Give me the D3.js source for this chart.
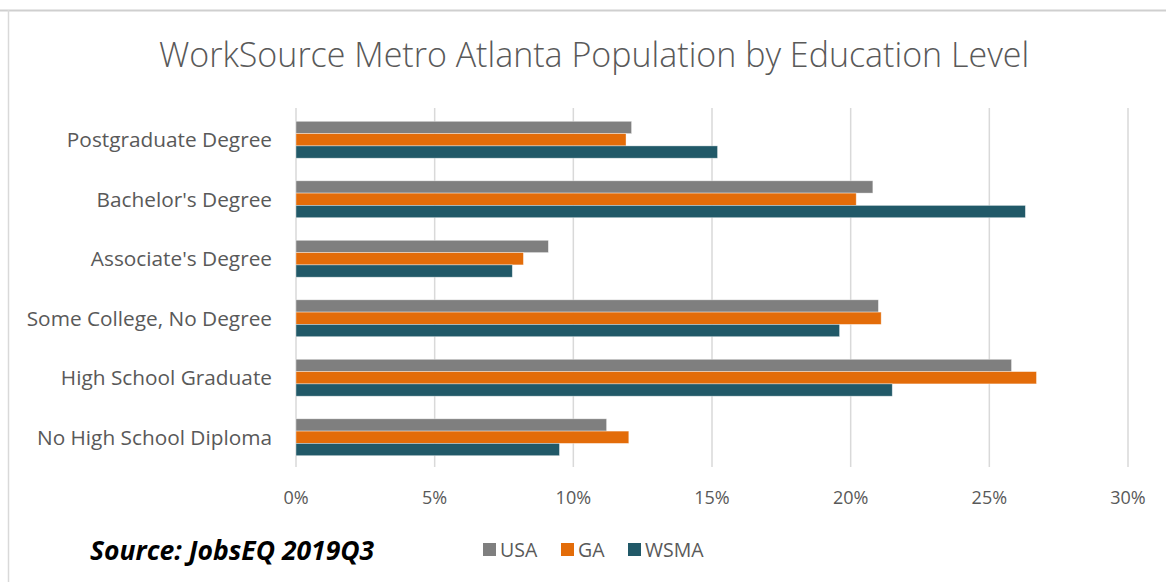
<!DOCTYPE html>
<html>
<head>
<meta charset="utf-8">
<script src="https://cdn.jsdelivr.net/npm/d3@7"></script>
<style>
  body { margin: 0; background: #fff; }
  svg { display: block; }
</style>
</head>
<body>
<div class="chart"></div>
<script>
const categories = ['Postgraduate Degree', "Bachelor's Degree", "Associate's Degree",
    'Some College, No Degree', 'High School Graduate', 'No High School Diploma'];
const series = ['USA', 'GA', 'WSMA'];
const usa = [12.1, 20.8, 9.1, 21.0, 25.8, 11.2];
const ga = [11.9, 20.2, 8.2, 21.1, 26.7, 12.0];
const wsma = [15.2, 26.3, 7.8, 19.6, 21.5, 9.5];
const ticks = [0, 5, 10, 15, 20, 25, 30];
const colors = ['#7f7f7f', '#e36c09', '#215968'];

function draw_bars() {
    const width = 1166, height = 582;
    const fontFamily = '"Open Sans", Lato, sans-serif';
    const values = [usa, ga, wsma];

    let svg = d3.select('.chart')
        .append('svg')
        .attr('width', width)
        .attr('height', height)
        .attr('font-family', fontFamily);

    // frame lines (top and left edge of the chart box)
    svg.append('line')
        .attr('x1', 0).attr('x2', width).attr('y1', 10.5).attr('y2', 10.5)
        .attr('stroke', '#cfcfcf').attr('stroke-width', 2);
    svg.append('line')
        .attr('x1', 8.5).attr('x2', 8.5).attr('y1', 10).attr('y2', height)
        .attr('stroke', '#d9d9d9').attr('stroke-width', 1.5);

    svg.append('text')
        .attr('x', 594)
        .attr('y', 67)
        .attr('text-anchor', 'middle')
        .attr('font-size', 34)
        .attr('font-weight', 300)
        .attr('fill', '#595959')
        .text('WorkSource Metro Atlanta Population by Education Level');

    let x = d3.scaleLinear()
        .domain([0, 30])
        .range([296, 1128]);

    let y = d3.scaleBand()
        .domain(categories)
        .range([110, 467])
        .paddingInner(0.38)
        .paddingOuter(0.19);

    let y1 = d3.scaleBand()
        .domain(series)
        .range([0, y.bandwidth()]);

    // gridlines
    svg.append('g')
        .selectAll('line')
        .data(ticks)
        .join('line')
        .attr('x1', d => x(d)).attr('x2', d => x(d))
        .attr('y1', 108).attr('y2', 467)
        .attr('stroke', '#d9d9d9')
        .attr('stroke-width', 1.5);

    // tick labels
    svg.append('g')
        .selectAll('text')
        .data(ticks)
        .join('text')
        .attr('x', d => x(d))
        .attr('y', 504)
        .attr('text-anchor', 'middle')
        .attr('font-size', 18)
        .attr('fill', '#595959')
        .text(d => d + '%');

    // category labels
    svg.append('g')
        .selectAll('text')
        .data(categories)
        .join('text')
        .attr('x', 272)
        .attr('y', d => y(d) + y.bandwidth() / 2)
        .attr('dy', '0.35em')
        .attr('text-anchor', 'end')
        .attr('font-size', 20.8)
        .attr('fill', '#595959')
        .text(d => d);

    // bars
    series.forEach((s, i) => {
        svg.append('g')
            .selectAll('rect')
            .data(categories.map((c, j) => ({c: c, v: values[i][j]})))
            .join('rect')
            .attr('x', x(0))
            .attr('y', d => y(d.c) + y1(s))
            .attr('width', d => x(d.v) - x(0))
            .attr('height', y1.bandwidth())
            .attr('fill', colors[i])
            .attr('stroke', 'rgba(255,255,255,0.5)')
            .attr('stroke-width', 0.75);
    });

    // source note
    svg.append('text')
        .attr('x', 90)
        .attr('y', 560)
        .attr('font-size', 26.5)
        .attr('font-weight', 'bold')
        .attr('font-style', 'italic')
        .attr('fill', '#000')
        .text('Source: JobsEQ 2019Q3');

    // legend
    const legendX = [483, 561, 628];
    const legend = svg.append('g')
        .selectAll('g')
        .data(series)
        .join('g')
        .attr('transform', (d, i) => `translate(${legendX[i]}, 543)`);
    legend.append('rect')
        .attr('width', 13)
        .attr('height', 13)
        .attr('fill', (d, i) => colors[i]);
    legend.append('text')
        .attr('x', 17)
        .attr('y', 14)
        .attr('font-size', 19.5)
        .attr('fill', '#595959')
        .text(d => d);
}

draw_bars();
</script>
</body>
</html>
